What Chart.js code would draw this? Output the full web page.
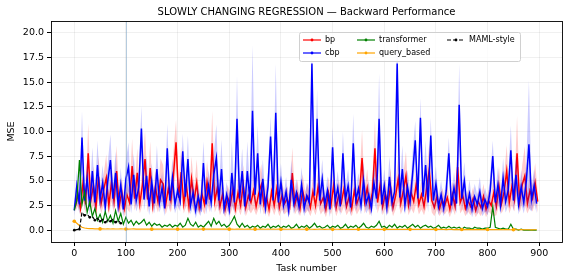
<!DOCTYPE html>
<html>
<head>
<meta charset="utf-8">
<script src="https://cdn.jsdelivr.net/npm/chart.js@4.4.0/dist/chart.umd.min.js"></script>
<style>
html, body { margin: 0; padding: 0; background: #fff; }
</style>
</head>
<body>
<canvas id="chart" width="568" height="280"></canvas>
<script>
// values, one every 5 tasks (bp read 2 tasks later than the others)
const bp = [
2.4,3.6,2.2,4.8,2.6,7.8,3.0,4.5,2.3,5.4,
2.7,4.1,5.3,2.5,4.8,2.9,6.0,2.4,3.9,2.2,
3.6,2.8,6.5,3.2,5.8,2.7,4.6,7.2,3.1,6.3,
2.5,4.4,2.9,5.1,4.7,2.6,4.2,3.0,5.6,8.9,
3.3,5.9,2.7,4.5,2.4,5.2,3.0,4.8,2.3,3.7,
2.6,4.9,3.1,8.8,2.9,4.3,2.4,3.6,2.1,3.3,
2.6,4.1,2.2,3.8,2.5,4.6,2.3,3.5,2.8,4.0,
2.4,3.7,4.6,2.6,3.4,2.1,3.9,2.5,4.2,2.3,
3.5,2.7,3.2,2.4,5.8,2.6,3.6,2.2,4.0,2.8,
3.4,2.3,3.9,2.5,4.4,2.7,3.3,2.1,3.8,2.6,
4.5,2.3,3.6,2.8,4.2,2.4,3.4,2.2,4.0,2.7,
3.5,7.3,2.9,4.3,2.5,3.8,8.3,2.8,4.6,2.4,
3.7,2.6,4.4,2.3,3.5,5.2,2.7,4.0,5.5,2.5,
3.8,2.9,4.7,2.6,3.6,2.4,4.2,6.1,3.0,2.3,
3.4,2.2,3.1,2.5,3.3,2.1,3.6,2.4,6.4,2.8,
3.5,2.2,3.0,2.4,3.2,2.0,2.9,2.3,3.4,2.1,
3.0,2.5,3.8,2.4,4.5,2.7,3.9,6.0,2.8,4.4,
3.1,7.8,2.9,4.6,5.5,2.7,4.0,3.2,4.8,2.9
];
const bpSpread = [
0.5,1.2,0.8,1.8,0.9,3.0,1.2,2.0,0.8,2.2,
1.0,1.6,2.4,0.9,1.9,1.1,2.6,0.9,1.5,0.8,
1.4,1.0,2.8,1.2,2.5,1.0,2.0,2.9,1.3,2.7,
0.9,1.8,1.1,2.2,1.9,1.0,1.7,1.2,2.4,2.3,
1.3,2.6,1.0,2.0,0.9,2.3,1.2,2.4,0.8,1.5,
1.0,2.1,1.3,3.3,1.1,1.8,0.9,1.4,0.8,1.3,
1.0,1.7,0.8,1.6,1.0,2.0,0.9,1.4,1.1,1.8,
0.9,1.5,2.1,1.0,1.4,0.8,1.6,1.0,1.9,0.9,
1.4,1.1,1.3,0.9,2.6,1.0,1.5,0.8,1.7,1.1,
1.4,0.9,1.7,1.0,1.9,1.1,1.3,0.8,1.6,1.0,
1.9,0.9,1.5,1.1,1.8,0.9,1.4,0.8,1.7,1.1,
1.4,2.9,1.2,1.9,1.0,1.6,2.8,1.1,2.0,0.9,
1.5,1.0,1.9,0.9,1.4,2.3,1.1,1.7,2.5,1.0,
1.6,1.2,2.0,1.0,1.5,0.9,1.8,2.6,1.2,0.9,
1.3,0.8,1.2,0.9,1.3,0.8,1.4,0.9,2.7,1.1,
1.4,0.8,1.1,0.9,1.2,0.7,1.1,0.9,1.3,0.8,
1.1,0.9,2.4,0.9,2.0,1.0,1.7,2.6,1.1,1.9,
1.2,3.8,1.1,2.0,3.0,1.0,1.7,1.3,2.0,1.1
];
const cbp = [
2.0,4.5,2.6,9.4,3.0,5.2,2.4,6.0,2.8,6.6,
3.1,4.8,2.3,5.0,7.1,3.2,5.8,2.5,4.6,2.1,
5.2,6.4,2.6,5.6,3.0,4.4,10.3,3.1,5.5,2.4,
4.9,2.7,6.2,2.8,4.3,2.2,8.3,3.0,5.3,2.6,
4.0,2.9,8.0,3.4,7.2,2.5,3.8,2.0,3.4,2.3,
6.8,2.6,4.5,2.8,5.6,7.3,3.0,6.2,2.2,3.6,
2.1,5.8,2.8,11.3,3.2,6.0,2.4,6.0,3.0,12.1,
3.6,7.8,2.6,5.2,2.3,4.4,9.5,3.0,11.9,2.8,
4.9,2.5,3.9,2.0,5.1,2.7,3.8,2.4,4.6,2.2,
3.5,2.8,16.9,3.5,11.3,3.0,5.2,2.6,4.0,2.1,
8.4,2.9,4.3,2.4,7.8,3.1,4.5,2.3,8.8,3.0,
4.2,2.5,5.0,2.7,3.6,2.2,4.8,3.2,11.3,2.6,
4.5,2.3,5.4,2.8,3.9,16.9,3.3,6.2,2.5,4.4,
2.9,5.8,9.1,3.2,11.4,3.4,6.6,2.8,9.6,3.0,
4.7,2.4,3.6,2.2,4.0,7.8,2.5,4.3,2.7,12.7,
3.2,5.0,2.4,3.7,2.1,3.4,2.6,3.9,2.2,3.1,
2.4,4.0,7.5,2.8,4.6,2.5,5.3,2.9,4.1,8.1,
3.0,5.6,2.6,4.4,2.8,5.0,8.7,3.1,4.5,2.7
];
const cbpSpread = [
0.6,1.6,0.9,2.7,1.0,2.0,0.9,2.4,1.0,2.5,
1.1,1.8,0.8,1.9,2.6,1.1,2.2,0.9,1.7,0.8,
1.9,2.5,0.9,2.2,1.1,1.7,2.3,1.1,2.1,0.9,
1.9,1.0,2.4,1.0,1.6,0.8,2.5,1.1,2.0,0.9,
1.5,1.0,1.8,1.3,2.4,0.9,1.4,0.8,1.3,0.9,
2.2,1.0,1.7,1.0,2.1,3.4,1.1,3.0,0.8,1.3,
0.8,3.2,1.0,4.4,1.2,2.3,0.9,3.0,1.1,6.7,
1.3,2.8,1.0,2.0,0.9,1.7,2.0,1.1,5.0,1.0,
1.9,0.9,1.5,0.8,2.0,1.0,1.4,0.9,1.8,0.8,
1.3,1.0,1.6,1.1,3.0,1.1,2.0,1.0,1.5,0.8,
2.1,1.1,1.7,0.9,2.2,1.2,1.7,0.9,3.0,1.1,
1.6,0.9,1.9,1.0,1.4,0.8,1.8,1.2,4.6,1.0,
1.7,0.9,2.1,1.0,1.5,3.3,1.2,2.4,0.9,1.7,
1.1,2.2,2.0,1.1,2.0,1.3,2.5,1.0,1.8,1.1,
1.8,0.9,1.4,0.8,1.5,1.6,0.9,1.6,1.0,4.2,
1.2,1.9,0.9,1.4,0.8,1.3,1.0,1.5,0.8,1.2,
0.9,1.5,1.6,1.1,1.8,0.9,2.0,1.1,1.6,2.5,
1.1,2.1,1.0,1.7,1.1,1.9,6.5,1.2,1.7,1.0
];
const transformer = [
2.0,3.0,7.1,2.6,3.9,1.8,2.9,1.4,2.2,1.0,
1.6,0.8,1.9,0.9,1.5,0.7,2.0,0.9,1.7,0.6,
1.3,0.7,1.0,0.5,0.9,0.6,0.8,1.1,0.5,0.8,
0.4,0.7,0.5,0.6,0.3,0.5,0.4,0.6,0.3,0.5,
0.4,0.7,0.3,0.5,1.2,0.6,0.4,0.8,0.3,0.5,
0.3,0.6,0.9,0.4,1.2,0.6,0.9,0.4,0.6,0.3,
0.5,0.9,1.4,0.6,0.3,0.7,0.3,0.5,0.2,0.4,
0.3,0.5,0.2,0.4,0.3,0.6,0.2,0.4,0.3,0.5,
0.2,0.4,0.3,0.5,0.2,0.3,0.6,0.2,0.4,0.3,
0.5,0.2,0.4,0.7,0.3,0.4,0.2,0.3,0.5,0.2,
0.4,0.3,0.5,0.2,0.3,0.6,0.2,0.4,0.3,0.5,
0.2,0.4,0.7,0.3,0.2,0.4,0.3,0.5,0.9,0.3,
0.4,0.2,0.5,0.3,0.6,0.2,0.4,0.3,0.5,0.2,
0.4,0.6,0.3,0.5,0.2,0.4,0.5,0.3,0.4,0.2,
0.3,0.5,0.2,0.3,0.2,0.4,0.2,0.3,0.2,0.3,
0.1,0.3,0.2,0.2,0.1,0.3,0.2,0.2,0.1,0.2,
0.2,0.3,2.4,0.3,0.2,0.1,0.2,0.1,0.1,0.6,
0.1,0.1,0.0,0.1,0.0,0.0,0.0,0.0,0.0,0.0
];
const queryBased = [
0.90,0.70,0.48,0.30,0.22,0.18,0.16,0.15,0.14,0.14,
0.13,0.14,0.12,0.13,0.12,0.13,0.12,0.12,0.13,0.12,
0.12,0.11,0.12,0.13,0.11,0.12,0.11,0.12,0.11,0.12,
0.10,0.11,0.12,0.11,0.10,0.11,0.10,0.11,0.10,0.11,
0.10,0.11,0.10,0.12,0.10,0.11,0.10,0.10,0.11,0.10,
0.11,0.10,0.10,0.11,0.10,0.10,0.11,0.10,0.10,0.11,
0.10,0.10,0.09,0.10,0.11,0.10,0.09,0.10,0.10,0.09,
0.10,0.09,0.10,0.10,0.09,0.10,0.09,0.10,0.09,0.10,
0.09,0.10,0.09,0.09,0.10,0.09,0.09,0.10,0.09,0.09,
0.10,0.09,0.09,0.08,0.09,0.10,0.09,0.08,0.09,0.09,
0.08,0.09,0.09,0.08,0.09,0.08,0.09,0.08,0.09,0.08,
0.09,0.08,0.08,0.09,0.08,0.08,0.09,0.08,0.08,0.09,
0.08,0.08,0.09,0.08,0.08,0.07,0.08,0.08,0.07,0.08,
0.08,0.07,0.08,0.07,0.08,0.07,0.07,0.08,0.07,0.07,
0.07,0.08,0.07,0.07,0.06,0.07,0.07,0.06,0.07,0.06,
0.07,0.06,0.06,0.07,0.06,0.06,0.05,0.06,0.06,0.05,
0.06,0.05,0.05,0.06,0.05,0.05,0.04,0.05,0.05,0.04,
0.05,0.04,0.04,0.05,0.04,0.04,0.04,0.03,0.04,0.04
];
// MAML-style only runs over the first 100 tasks
const maml = [0.0,0.05,0.1,1.8,1.5,1.6,1.3,1.4,1.0,1.2,0.9,1.1,0.8,1.0,0.9,1.1,0.8,1.0,0.7,0.8];

const xTicks = [0,100,200,300,400,500,600,700,800,900];
const yTicks = [0,2.5,5,7.5,10,12.5,15,17.5,20];
const taskStep = 5;
const bpOffset = 2;
const boundaryTask = 100;
const chartTitle = 'SLOWLY CHANGING REGRESSION \u2014 Backward Performance';

const tasks = cbp.map((_, i) => i * taskStep);
const bpTasks = bp.map((_, i) => i * taskStep + bpOffset);
const pts = (ys, xs = tasks) => ys.map((y, i) => ({x: xs[i], y: y}));
const lowBand = (m, s) => m.map((v, i) => v - s[i]);
const highBand = (m, s) => m.map((v, i) => v + s[i]);

const FONT = 'DejaVu Sans';

const legendItems = [
  {label: 'bp', color: 'red', col: 0, row: 0},
  {label: 'cbp', color: 'blue', col: 0, row: 1},
  {label: 'transformer', color: 'green', col: 1, row: 0},
  {label: 'query_based', color: 'orange', col: 1, row: 1},
  {label: 'MAML-style', color: 'black', col: 2, row: 0, dash: true}
];

const framePlugin = {
  id: 'frame',
  afterDatasetsDraw(chart) {
    const {ctx, chartArea: a, scales: {x}} = chart;
    const px = Math.round(x.getPixelForValue(boundaryTask)) + 0.5;
    ctx.save();
    ctx.strokeStyle = 'rgba(120,160,195,0.55)';
    ctx.lineWidth = 1;
    ctx.beginPath();
    ctx.moveTo(px, a.top);
    ctx.lineTo(px, a.bottom);
    ctx.stroke();
    ctx.restore();
  },
  afterDraw(chart) {
    const {ctx, chartArea: a} = chart;
    ctx.save();
    // axes box
    ctx.strokeStyle = '#000';
    ctx.lineWidth = 0.9;
    ctx.strokeRect(Math.round(a.left) + 0.5, Math.round(a.top) + 0.5,
      Math.round(a.right - a.left), Math.round(a.bottom - a.top));
    // title
    ctx.fillStyle = '#000';
    ctx.font = '10px "' + FONT + '"';
    ctx.textAlign = 'center';
    ctx.textBaseline = 'middle';
    ctx.fillText(chartTitle, (a.left + a.right) / 2, 12);
    // legend
    const bx = 299, by = 32, bw = 221, bh = 29;
    ctx.fillStyle = 'rgba(255,255,255,0.8)';
    ctx.strokeStyle = '#d0d0d0';
    ctx.lineWidth = 1;
    ctx.beginPath();
    ctx.roundRect(bx + 0.5, by + 0.5, bw, bh, 2);
    ctx.fill();
    ctx.stroke();
    const colX = [303, 357, 447];
    const rowY = [40, 53];
    ctx.font = '8px "' + FONT + '"';
    ctx.textAlign = 'left';
    legendItems.forEach(it => {
      const x0 = colX[it.col], y0 = rowY[it.row];
      ctx.strokeStyle = it.color;
      ctx.fillStyle = it.color;
      ctx.lineWidth = 1.2;
      ctx.setLineDash(it.dash ? [4, 2] : []);
      ctx.beginPath();
      ctx.moveTo(x0, y0);
      ctx.lineTo(x0 + 18, y0);
      ctx.stroke();
      ctx.setLineDash([]);
      ctx.beginPath();
      ctx.arc(x0 + 9, y0, 1.4, 0, Math.PI * 2);
      ctx.fill();
      ctx.fillStyle = '#000';
      ctx.fillText(it.label, x0 + 22, y0);
    });
    ctx.restore();
  }
};

const lineBase = {pointRadius: 0, borderWidth: 1.2, tension: 0, fill: false};
const bandEdge = {borderWidth: 0, borderColor: 'rgba(0,0,0,0)'};

new Chart(document.getElementById('chart').getContext('2d'), {
  type: 'line',
  data: {
    datasets: [
      {...lineBase, ...bandEdge, data: pts(lowBand(bp, bpSpread), bpTasks), order: 8},
      {...lineBase, ...bandEdge, data: pts(highBand(bp, bpSpread), bpTasks),
        fill: '-1', backgroundColor: 'rgba(255,0,0,0.2)', order: 7},
      {...lineBase, label: 'bp', data: pts(bp, bpTasks), borderColor: '#ff0000', borderWidth: 1.5, order: 6},
      {...lineBase, ...bandEdge, data: pts(lowBand(cbp, cbpSpread)), order: 5.5},
      {...lineBase, ...bandEdge, data: pts(highBand(cbp, cbpSpread)),
        fill: '-1', backgroundColor: 'rgba(0,0,255,0.2)', order: 5},
      {...lineBase, label: 'cbp', data: pts(cbp), borderColor: '#0000ff', borderWidth: 1.5, order: 4},
      {...lineBase, label: 'transformer', data: pts(transformer), borderColor: '#008000', order: 3},
      {...lineBase, label: 'query_based', data: pts(queryBased), borderColor: '#ffa500',
        backgroundColor: '#ffa500', pointBorderWidth: 0,
        pointRadius: c => (tasks[c.dataIndex] % 50 === 0 ? 1.8 : 0), order: 2},
      {...lineBase, label: 'MAML-style', data: pts(maml), borderColor: '#000', backgroundColor: '#000',
        borderDash: [4, 2], pointBorderWidth: 0,
        pointRadius: c => (tasks[c.dataIndex] % 10 === 0 ? 1.3 : 0), order: 1}
    ]
  },
  options: {
    responsive: false,
    animation: false,
    layout: {padding: {top: 21, right: 6, left: 0, bottom: 0}},
    plugins: {legend: {display: false}, tooltip: {enabled: false}},
    scales: {
      x: {
        type: 'linear', min: -45, max: 944,
        afterBuildTicks: s => { s.ticks = xTicks.map(v => ({value: v})); },
        afterFit: s => { s.height = 38; },
        border: {display: false},
        grid: {color: 'rgba(0,0,0,0.06)', tickColor: '#000', tickLength: 4},
        ticks: {font: {family: FONT, size: 9.5}, color: '#000', padding: 2, maxRotation: 0, callback: v => v},
        title: {display: true, text: 'Task number', color: '#000', font: {family: FONT, size: 9.5},
          padding: {top: 0, bottom: 6}}
      },
      y: {
        type: 'linear', min: -1.2, max: 21.2,
        afterBuildTicks: s => { s.ticks = yTicks.map(v => ({value: v})); },
        afterFit: s => { s.width = 51; },
        border: {display: false},
        grid: {color: 'rgba(0,0,0,0.06)', tickColor: '#000', tickLength: 4},
        ticks: {font: {family: FONT, size: 9.5}, color: '#000', padding: 3, callback: v => Number(v).toFixed(1)},
        title: {display: true, text: 'MSE', color: '#000', font: {family: FONT, size: 9.5},
          padding: {top: 6, bottom: 0}}
      }
    }
  },
  plugins: [framePlugin]
});
</script>
</body>
</html>
